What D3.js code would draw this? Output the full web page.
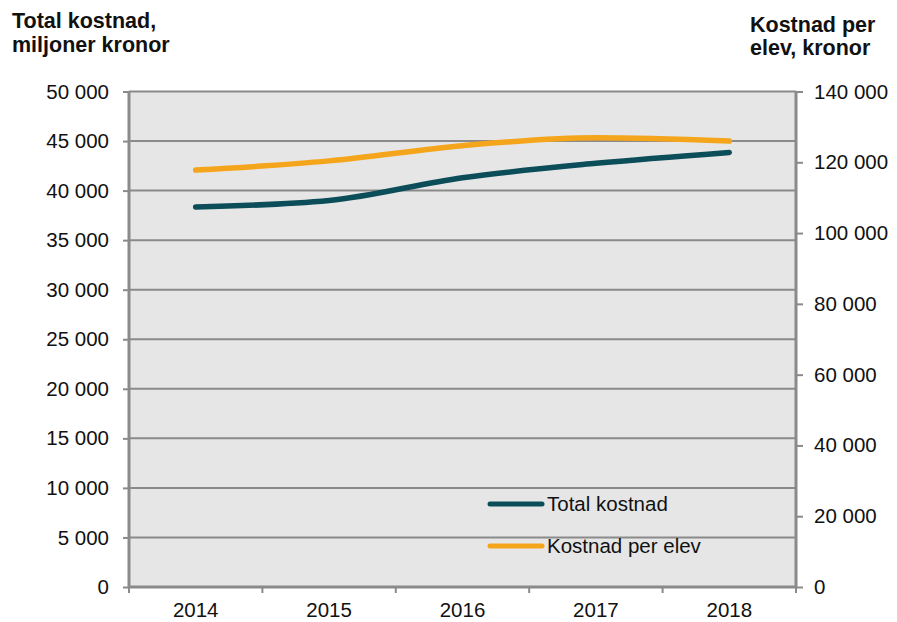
<!DOCTYPE html>
<html>
<head>
<meta charset="utf-8">
<script src="https://cdn.jsdelivr.net/npm/d3@7"></script>
<style>
  body { margin: 0; background: #fff; }
  text { font-family: "Liberation Sans", Arial, sans-serif; fill: #111; }
</style>
</head>
<body>
<div class="container"></div>
<script>
const years = ["2014", "2015", "2016", "2017", "2018"];
const totalKostnad = [38350, 39000, 41300, 42750, 43850];
const kostnadPerElev = [117800, 120400, 124700, 126900, 126000];
const leftTicks = d3.range(0, 50001, 5000);
const rightTicks = d3.range(0, 140001, 20000);
const seriesNames = ["Total kostnad", "Kostnad per elev"];
const seriesColors = ["#0b4d59", "#f5a51b"];

const WIDTH = 897, HEIGHT = 622;
const MARGIN = { top: 91.5, right: 101, bottom: 35, left: 129 };
const FONT = 20.5;
const fmt = (d) => d3.format(",")(d).replace(/,/g, " ");

const svg = d3.select(".container")
  .append("svg")
  .attr("width", WIDTH)
  .attr("height", HEIGHT);

const x = d3.scaleBand()
  .domain(years)
  .range([MARGIN.left, WIDTH - MARGIN.right]);
const yLeft = d3.scaleLinear()
  .domain([0, 50000])
  .range([HEIGHT - MARGIN.bottom, MARGIN.top]);
const yRight = d3.scaleLinear()
  .domain([0, 140000])
  .range([HEIGHT - MARGIN.bottom, MARGIN.top]);

// plot background
svg.append("rect")
  .attr("x", MARGIN.left)
  .attr("y", MARGIN.top)
  .attr("width", WIDTH - MARGIN.right - MARGIN.left)
  .attr("height", HEIGHT - MARGIN.bottom - MARGIN.top)
  .attr("fill", "#e6e6e6");

// gridlines
svg.append("g")
  .selectAll("line")
  .data(leftTicks.filter((d) => d > 0))
  .join("line")
  .attr("x1", MARGIN.left)
  .attr("x2", WIDTH - MARGIN.right)
  .attr("y1", (d) => yLeft(d))
  .attr("y2", (d) => yLeft(d))
  .attr("stroke", "#8a8a8a")
  .attr("stroke-width", 2);

const styleAxis = (g) => {
  g.select(".domain").remove();
  g.selectAll(".tick line").attr("stroke", "#8a8a8a").attr("stroke-width", 2);
  g.selectAll(".tick text")
    .attr("font-size", FONT)
    .attr("fill", "#111")
    .attr("font-family", "Liberation Sans, Arial, sans-serif");
};

// left axis
svg.append("g")
  .attr("transform", `translate(${MARGIN.left},0)`)
  .call(d3.axisLeft(yLeft).tickValues(leftTicks).tickFormat(fmt).tickSize(6).tickPadding(14))
  .call(styleAxis);

// right axis
svg.append("g")
  .attr("transform", `translate(${WIDTH - MARGIN.right},0)`)
  .call(d3.axisRight(yRight).tickValues(rightTicks).tickFormat(fmt).tickSize(7).tickPadding(11))
  .call(styleAxis);

// x axis: ticks on band boundaries, labels at band centres
const bounds = years.map((d) => x(d)).concat([x.range()[1]]);
const xg = svg.append("g");
xg.selectAll("line")
  .data(bounds)
  .join("line")
  .attr("x1", (d) => d)
  .attr("x2", (d) => d)
  .attr("y1", HEIGHT - MARGIN.bottom)
  .attr("y2", HEIGHT - MARGIN.bottom + 6)
  .attr("stroke", "#8a8a8a")
  .attr("stroke-width", 2);
xg.selectAll("text")
  .data(years)
  .join("text")
  .attr("x", (d) => x(d) + x.bandwidth() / 2)
  .attr("y", 617)
  .attr("text-anchor", "middle")
  .attr("font-size", FONT)
  .text((d) => d);

// axis lines
svg.append("g")
  .attr("stroke", "#8a8a8a")
  .attr("stroke-width", 3)
  .selectAll("line")
  .data([
    [MARGIN.left, MARGIN.top, MARGIN.left, HEIGHT - MARGIN.bottom],
    [WIDTH - MARGIN.right, MARGIN.top, WIDTH - MARGIN.right, HEIGHT - MARGIN.bottom],
    [MARGIN.left, HEIGHT - MARGIN.bottom, WIDTH - MARGIN.right, HEIGHT - MARGIN.bottom]
  ])
  .join("line")
  .attr("x1", (d) => d[0]).attr("y1", (d) => d[1])
  .attr("x2", (d) => d[2]).attr("y2", (d) => d[3]);

// lines
const cx = (i) => x(years[i]) + x.bandwidth() / 2;
const lineLeft = d3.line().x((d, i) => cx(i)).y((d) => yLeft(d)).curve(d3.curveMonotoneX);
const lineRight = d3.line().x((d, i) => cx(i)).y((d) => yRight(d)).curve(d3.curveMonotoneX);

svg.append("path")
  .attr("d", lineLeft(totalKostnad))
  .attr("fill", "none")
  .attr("stroke", seriesColors[0])
  .attr("stroke-width", 5.5)
  .attr("stroke-linecap", "round")
  .attr("stroke-linejoin", "round");

svg.append("path")
  .attr("d", lineRight(kostnadPerElev))
  .attr("fill", "none")
  .attr("stroke", seriesColors[1])
  .attr("stroke-width", 5.5)
  .attr("stroke-linecap", "round")
  .attr("stroke-linejoin", "round");

// legend
const legend = svg.append("g")
  .selectAll("g")
  .data(seriesNames)
  .join("g")
  .attr("transform", (d, i) => `translate(490, ${504 + i * 42})`);
legend.append("line")
  .attr("x1", 0).attr("x2", 52)
  .attr("stroke", (d, i) => seriesColors[i])
  .attr("stroke-width", 5)
  .attr("stroke-linecap", "round");
legend.append("text")
  .attr("x", 57)
  .attr("y", 7)
  .attr("font-size", FONT)
  .text((d) => d);

// axis titles
const leftTitle = svg.append("text")
  .attr("font-size", 21.5)
  .attr("font-weight", "bold");
leftTitle.append("tspan").attr("x", 12).attr("y", 28).text("Total kostnad,");
leftTitle.append("tspan").attr("x", 12).attr("y", 52).text("miljoner kronor");

const rightTitle = svg.append("text")
  .attr("font-size", 21.5)
  .attr("font-weight", "bold");
rightTitle.append("tspan").attr("x", 750).attr("y", 32).text("Kostnad per");
rightTitle.append("tspan").attr("x", 750).attr("y", 55).text("elev, kronor");
</script>
</body>
</html>
